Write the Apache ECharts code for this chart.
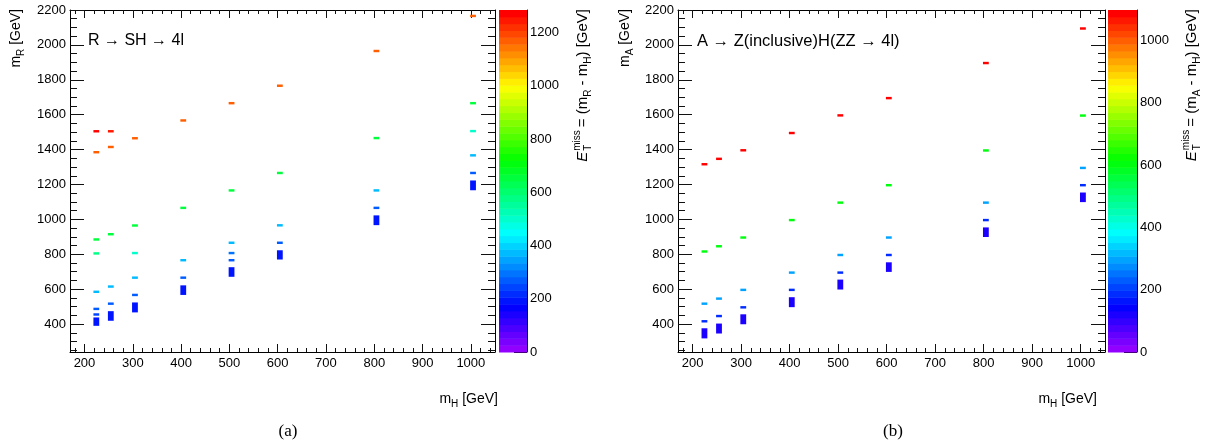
<!DOCTYPE html>
<html>
<head>
<meta charset="utf-8">
<script src="https://cdn.jsdelivr.net/npm/echarts@6/dist/echarts.min.js"></script>
<style>
  html, body { margin: 0; padding: 0; background: #fff; }
  #chart { width: 1213px; height: 446px; }
</style>
</head>
<body>
<div id="chart"></div>
<script>
// Mass points of the light scalar H (GeV)
const massH = [220, 250, 300, 400, 500, 600, 800, 1000];

// (a) R -> SH -> 4l : isolated m_R bins for each m_H column
const mR_single = [
  [1505, 1385, 885, 805, 585, 487, 455],
  [1505, 1415, 915, 615, 517],
  [1465, 965, 807, 666, 567],
  [1567, 1066, 766, 666],
  [1666, 1166, 866, 807, 766],
  [1766, 1266, 966, 866],
  [1965, 1466, 1166, 1066],
  [2166, 1666, 1506, 1367, 1266]
];
// (a) contiguous low-m_R bins [from, to] for each m_H column
const mR_band = [[390, 438], [419, 474], [467, 524], [567, 622], [671, 726], [770, 823], [967, 1023], [1167, 1223]];

// (b) A -> Z(inclusive)H(ZZ -> 4l) : isolated m_A bins for each m_H column
const mA_single = [
  [1316, 816, 517, 416],
  [1347, 846, 546, 446],
  [1396, 896, 596, 496],
  [1495, 996, 695, 596],
  [1596, 1096, 796, 695],
  [1695, 1196, 896, 796],
  [1896, 1395, 1096, 996],
  [2094, 1595, 1295, 1196]
];
// (b) contiguous low-m_A bins [from, to] for each m_H column
const mA_band = [[318, 376], [346, 403], [399, 456], [497, 554], [598, 655], [699, 754], [899, 954], [1099, 1154]];

// ---- axis ticks ----
const xMajor = [200, 300, 400, 500, 600, 700, 800, 900, 1000];
const xMinor = [180, 220, 240, 260, 280, 320, 340, 360, 380, 420, 440, 460, 480, 520, 540, 560, 580,
                620, 640, 660, 680, 720, 740, 760, 780, 820, 840, 860, 880, 920, 940, 960, 980, 1020, 1040];
const yMajor = [400, 600, 800, 1000, 1200, 1400, 1600, 1800, 2000, 2200];
const yMinor = [250, 300, 350, 450, 500, 550, 650, 700, 750, 850, 900, 950, 1050, 1100, 1150, 1250, 1300, 1350,
                1450, 1500, 1550, 1650, 1700, 1750, 1850, 1900, 1950, 2050, 2100, 2150];
const zTicksA = [0, 200, 400, 600, 800, 1000, 1200];
const zTicksB = [0, 200, 400, 600, 800, 1000];

const X_MIN = 170, X_MAX = 1050, Y_MIN = 240, Y_MAX = 2200;
const FONT = '"Liberation Sans", Arial, Helvetica, sans-serif';
const SERIF = '"Liberation Serif", "Times New Roman", serif';
const N_COLORS = 50;   // number of palette bands

// rainbow palette: hue from violet down to red, full saturation, half lightness
function hslToHex(h, s, l) {
  const k = n => (n + h / 30) % 12;
  const a = s * Math.min(l, 1 - l);
  const f = n => l - a * Math.max(-1, Math.min(k(n) - 3, Math.min(9 - k(n), 1)));
  const hx = v => Math.round(v * 255).toString(16).padStart(2, '0');
  return '#' + hx(f(0)) + hx(f(8)) + hx(f(4));
}
const palette = [];
for (let i = 0; i < N_COLORS; i++) palette.push(hslToHex(280 - (i + 1) * 280 / N_COLORS, 1, 0.5));

function pieces(zmax) {
  return palette.map((c, i) => {
    const p = { gte: zmax * i / N_COLORS, color: c };
    if (i === N_COLORS - 1) p.lte = zmax * 1.01; else p.lt = zmax * (i + 1) / N_COLORS;
    return p;
  });
}

// rows: [mH, yLow, yHigh, z = m_heavy - mH]
const HALF_BIN = 7;
function binRows(singles, bands) {
  const rows = [];
  massH.forEach((mH, i) => {
    singles[i].forEach(v => rows.push([mH, v - HALF_BIN, v + HALF_BIN, v - mH]));
    const b = bands[i];
    rows.push([mH, b[0], b[1], (b[0] + b[1]) / 2 - mH]);
  });
  return rows;
}
function zMaxOf(singles) {
  let m = 0;
  massH.forEach((mH, i) => singles[i].forEach(v => { m = Math.max(m, v - mH); }));
  return m;
}

function renderBin(params, api) {
  const p0 = api.coord([api.value(0) - 1.5, api.value(2)]);
  const p1 = api.coord([api.value(0) + 10.5, api.value(1)]);
  return { type: 'rect', shape: { x: p0[0], y: p0[1], width: p1[0] - p0[0], height: p1[1] - p0[1] },
           style: { fill: api.visual('color') } };
}
function renderBand(params, api) {
  const p0 = api.coord([0, api.value(2)]);
  const p1 = api.coord([1, api.value(1)]);
  return { type: 'rect', shape: { x: p0[0], y: p0[1], width: p1[0] - p0[0], height: p1[1] - p0[1] + 0.5 },
           style: { fill: api.visual('color') } };
}

const lineStyle = { color: '#000', width: 1 };
const tickStyle = { color: '#111', width: 1 };
const plain = v => String(v);
const labelStyle = { color: '#000', fontSize: 13, fontFamily: FONT, formatter: plain };

function frameXAxes(g) {
  const c = { type: 'value', gridIndex: g, min: X_MIN, max: X_MAX, splitLine: { show: false } };
  return [
    Object.assign({}, c, { position: 'bottom', axisLine: { show: true, onZero: false, lineStyle },
      axisTick: { show: true, inside: true, length: 8, customValues: xMajor, lineStyle: tickStyle },
      axisLabel: Object.assign({ customValues: xMajor, margin: 5 }, labelStyle) }),
    Object.assign({}, c, { position: 'bottom', axisLine: { show: false, onZero: false },
      axisTick: { show: true, inside: true, length: 4, customValues: xMinor, lineStyle: tickStyle }, axisLabel: { show: false } }),
    Object.assign({}, c, { position: 'top', axisLine: { show: true, onZero: false, lineStyle },
      axisTick: { show: true, inside: true, length: 8, customValues: xMajor, lineStyle: tickStyle }, axisLabel: { show: false } }),
    Object.assign({}, c, { position: 'top', axisLine: { show: false, onZero: false },
      axisTick: { show: true, inside: true, length: 4, customValues: xMinor, lineStyle: tickStyle }, axisLabel: { show: false } })
  ];
}
function frameYAxes(g) {
  const c = { type: 'value', gridIndex: g, min: Y_MIN, max: Y_MAX, splitLine: { show: false } };
  return [
    Object.assign({}, c, { position: 'left', axisLine: { show: true, onZero: false, lineStyle },
      axisTick: { show: true, inside: true, length: 14, customValues: yMajor, lineStyle: tickStyle },
      axisLabel: Object.assign({ customValues: yMajor, margin: 4 }, labelStyle) }),
    Object.assign({}, c, { position: 'left', axisLine: { show: false, onZero: false },
      axisTick: { show: true, inside: true, length: 7, customValues: yMinor, lineStyle: tickStyle }, axisLabel: { show: false } }),
    Object.assign({}, c, { position: 'right', axisLine: { show: true, onZero: false, lineStyle },
      axisTick: { show: true, inside: true, length: 14, customValues: yMajor, lineStyle: tickStyle }, axisLabel: { show: false } }),
    Object.assign({}, c, { position: 'right', axisLine: { show: false, onZero: false },
      axisTick: { show: true, inside: true, length: 7, customValues: yMinor, lineStyle: tickStyle }, axisLabel: { show: false } })
  ];
}

// text made of runs with sub/superscripts; anchored at its right end
const mctx = document.createElement('canvas').getContext('2d');
function runWidth(r) {
  mctx.font = (r.italic ? 'italic ' : '') + r.size + 'px ' + FONT;
  return mctx.measureText(r.t).width;
}
function mathText(runs, x, y, rotation) {
  const items = [];
  let cur = 0;
  runs.forEach(r => {
    const parts = r.stack || [r];
    let w = 0;
    parts.forEach(p => {
      items.push({ type: 'text', x: cur, y: p.dy || 0,
        style: { text: p.t, fontSize: p.size, fontFamily: FONT, fontStyle: p.italic ? 'italic' : 'normal',
                 fill: '#000', align: 'left', verticalAlign: 'middle' } });
      w = Math.max(w, runWidth(p));
    });
    cur += w + (r.gap || 0);
  });
  items.forEach(it => { it.x -= cur; });
  return { type: 'group', x, y, rotation: rotation || 0, children: items };
}

const zmaxA = zMaxOf(mR_single), zmaxB = zMaxOf(mA_single);
const panels = [
  { singles: mR_single, bands: mR_band, zmax: zmaxA, zTicks: zTicksA,
    grid: { left: 70, top: 10, width: 425, height: 342 }, bar: { left: 499, top: 10, width: 28, height: 342 } },
  { singles: mA_single, bands: mA_band, zmax: zmaxB, zTicks: zTicksB,
    grid: { left: 678, top: 10, width: 427, height: 342 }, bar: { left: 1108, top: 10, width: 29, height: 342 } }
];

const option = { animation: false, textStyle: { fontFamily: FONT }, grid: [], xAxis: [], yAxis: [], series: [], visualMap: [] };
panels.forEach((p, k) => {
  const gPlot = option.grid.length;
  option.grid.push(p.grid, p.bar);
  const gBar = gPlot + 1;
  const xBase = option.xAxis.length, yBase = option.yAxis.length;
  option.xAxis.push(...frameXAxes(gPlot));
  option.yAxis.push(...frameYAxes(gPlot));
  const xBar = option.xAxis.length, yBar = option.yAxis.length;
  option.xAxis.push({ type: 'value', gridIndex: gBar, min: 0, max: 1, show: false });
  option.yAxis.push({ type: 'value', gridIndex: gBar, min: 0, max: p.zmax, position: 'right',
    splitLine: { show: false },
    axisLine: { show: true, onZero: false, lineStyle },
    axisTick: { show: true, inside: true, length: 13, customValues: p.zTicks, lineStyle: { color: '#000', width: 1 } },
    axisLabel: Object.assign({ customValues: p.zTicks, margin: 3 }, labelStyle) });

  const sMarks = option.series.length;
  option.series.push({ type: 'custom', xAxisIndex: xBase, yAxisIndex: yBase, renderItem: renderBin,
    encode: { x: 0, y: [1, 2] }, data: binRows(p.singles, p.bands) });
  const bands = [];
  for (let i = 0; i < N_COLORS; i++) {
    bands.push([0, p.zmax * i / N_COLORS, p.zmax * (i + 1) / N_COLORS, p.zmax * (i + 0.5) / N_COLORS]);
  }
  option.series.push({ type: 'custom', xAxisIndex: xBar, yAxisIndex: yBar, renderItem: renderBand,
    encode: { x: 0, y: [1, 2] }, data: bands });
  option.visualMap.push({ type: 'piecewise', show: false, dimension: 3, seriesIndex: [sMarks, sMarks + 1],
    pieces: pieces(p.zmax) });
});

const R90 = Math.PI / 2;
const sub = (t, dy, size) => ({ t, size: size || 9, dy: dy === undefined ? 4 : dy });
function etTitle(heavy, x) {
  return mathText([{ t: 'E', size: 15, italic: true, gap: 1 }, { stack: [sub('miss', -6, 10), sub('T', 5, 10)], gap: 3 },
    { t: '= (m', size: 15 }, sub(heavy, 5, 10), { t: ' - m', size: 15 }, sub('H', 5, 10), { t: ') [GeV]', size: 15 }], x, 9, R90);
}
option.graphic = [
  // panel (a)
  { type: 'text', x: 88, y: 41, style: { text: 'R \u2192 SH \u2192 4l', fontSize: 16, fontFamily: FONT, fill: '#000', verticalAlign: 'middle' } },
  mathText([{ t: 'm', size: 14 }, sub('R', 5, 10), { t: ' [GeV]', size: 14 }], 16, 9, R90),
  mathText([{ t: 'm', size: 14 }, sub('H', 5, 10), { t: ' [GeV]', size: 14 }], 498, 399, 0),
  etTitle('R', 583),
  { type: 'text', x: 288, y: 432, style: { text: '(a)', fontSize: 17, fontFamily: SERIF, fill: '#000', align: 'center', verticalAlign: 'middle' } },
  // panel (b)
  { type: 'text', x: 697, y: 41, style: { text: 'A \u2192 Z(inclusive)H(ZZ \u2192 4l)', fontSize: 16.5, fontFamily: FONT, fill: '#000', verticalAlign: 'middle' } },
  mathText([{ t: 'm', size: 14 }, sub('A', 5, 10), { t: ' [GeV]', size: 14 }], 625, 9, R90),
  mathText([{ t: 'm', size: 14 }, sub('H', 5, 10), { t: ' [GeV]', size: 14 }], 1097, 399, 0),
  etTitle('A', 1192),
  { type: 'text', x: 893, y: 432, style: { text: '(b)', fontSize: 17, fontFamily: SERIF, fill: '#000', align: 'center', verticalAlign: 'middle' } }
];

const chart = echarts.init(document.getElementById('chart'), null, { renderer: 'canvas' });
chart.setOption(option);
</script>
</body>
</html>
